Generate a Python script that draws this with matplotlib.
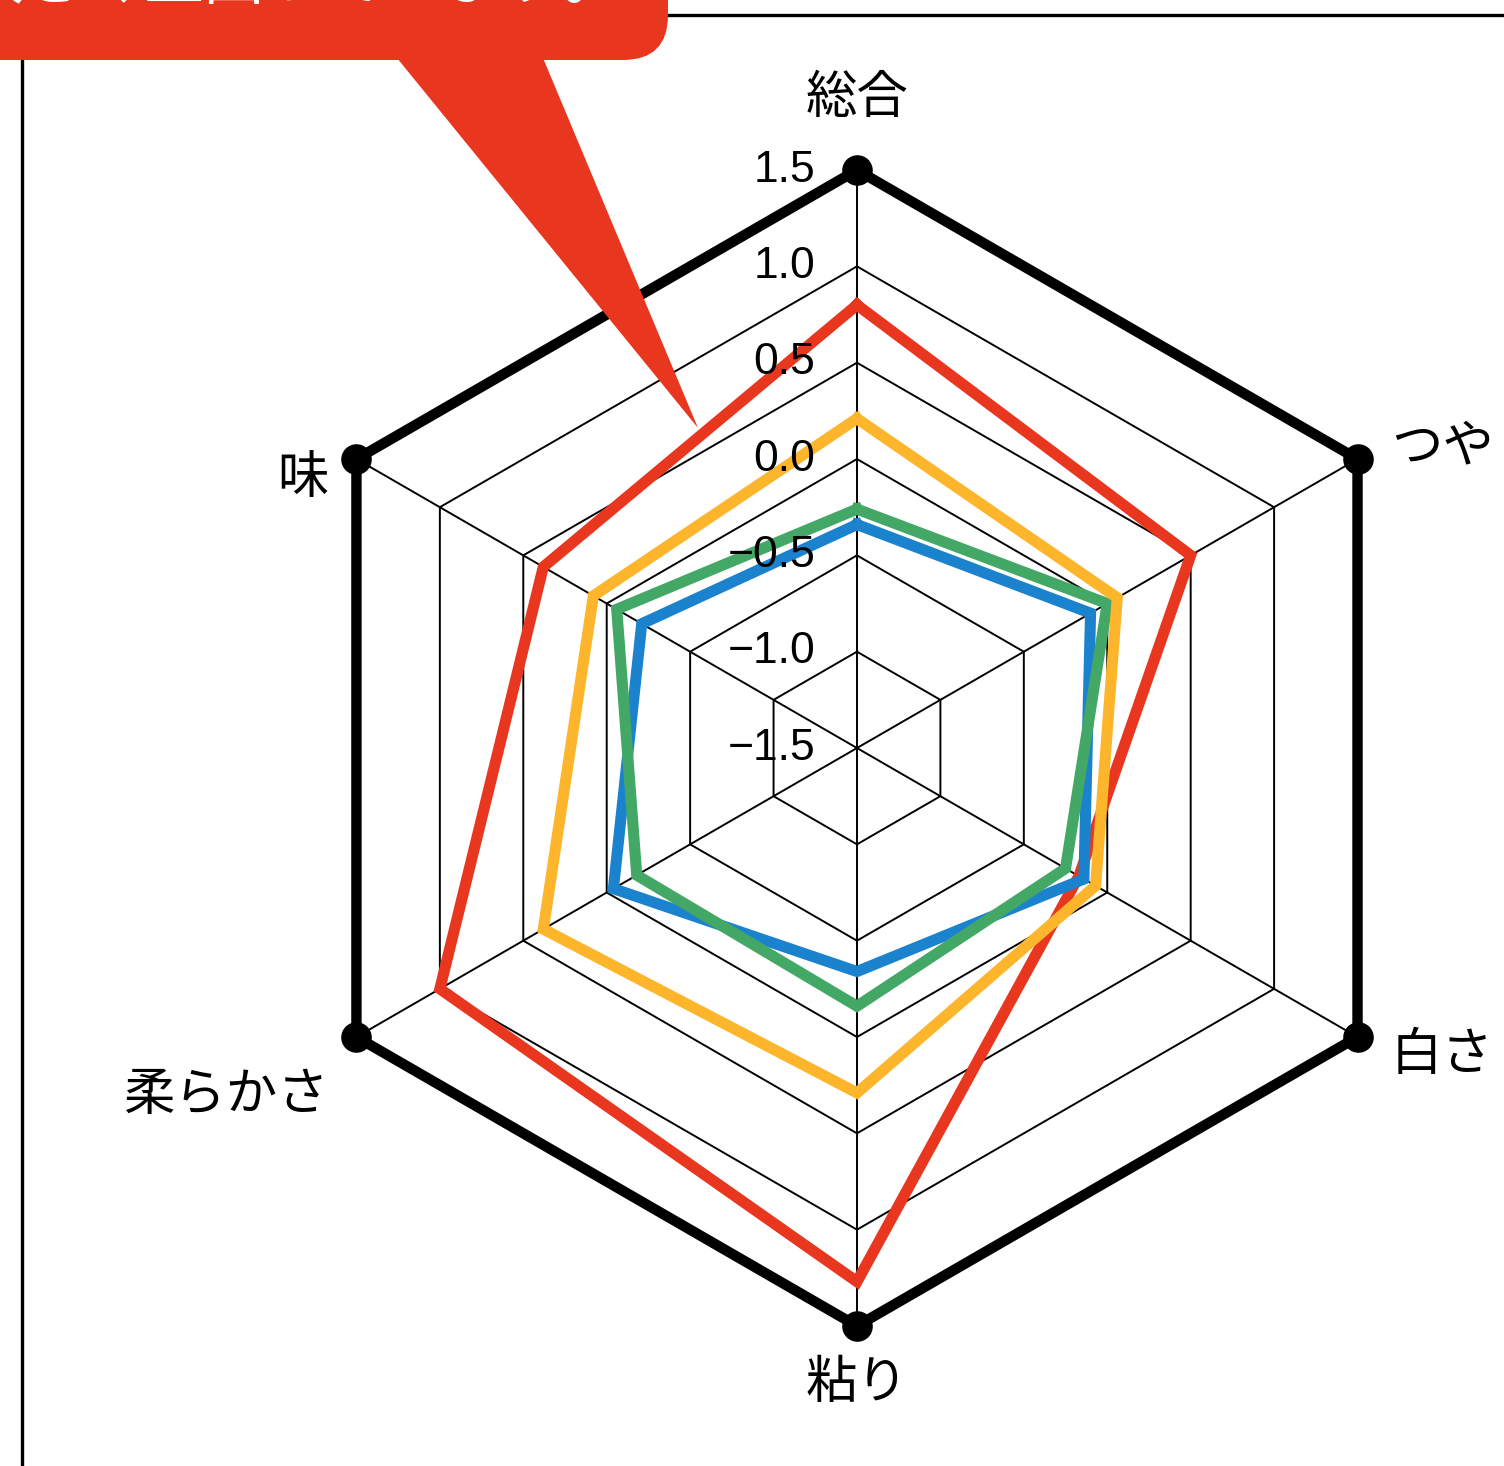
import numpy as np
import matplotlib
matplotlib.use("Agg")
import matplotlib.pyplot as plt
from matplotlib.patches import FancyBboxPatch, Polygon, Rectangle

plt.rcParams['font.family'] = ['Noto Sans CJK JP', 'DejaVu Sans']

# data
categories = ['総合', 'つや', '白さ', '粘り', '柔らかさ', '味']
red_vals = [0.80, 0.50, -0.17, 1.27, 1.00, 0.38]
yellow_vals = [0.21, 0.06, -0.07, 0.29, 0.38, 0.08]
green_vals = [-0.26, 0.00, -0.25, -0.16, -0.18, -0.06]
blue_vals = [-0.34, -0.10, -0.14, -0.34, -0.04, -0.21]
ring_vals = [-1.0, -0.5, 0.0, 0.5, 1.0]
tick_vals = [1.5, 1.0, 0.5, 0.0, -0.5, -1.0, -1.5]
tick_labels = ['1.5', '1.0', '0.5', '0.0', '−0.5', '−1.0', '−1.5']
r_min, r_max = -1.5, 1.5
callout_text = '品種より大きく上回っています。'

series = [
    (red_vals, '#E8361F'),
    (blue_vals, '#1B83CE'),
    (green_vals, '#43A866'),
    (yellow_vals, '#FDB52B'),
]

W, H = 1504, 1466
fig = plt.figure(figsize=(W / 100, H / 100), dpi=100)

ax = fig.add_axes([0.1855, 0.0955, 0.7686, 0.7885], projection='polar')
ax.set_theta_offset(np.pi / 2)
ax.set_theta_direction(-1)
ax.set_ylim(r_min, r_max)
ax.grid(False)
ax.spines['polar'].set_visible(False)
ax.set_xticks([])
ax.set_yticks([])
ax.patch.set_alpha(0)

n = len(categories)
theta = np.arange(n) * 2 * np.pi / n
theta_c = np.append(theta, theta[0])

# grid rings and spokes
for v in ring_vals:
    ax.plot(theta_c, [v] * (n + 1), color='black', lw=1.4, zorder=1)
for t in theta:
    ax.plot([t, t], [r_min, r_max], color='black', lw=1.4, zorder=1)
ax.plot(theta_c, [r_max] * (n + 1), color='black', lw=7.5, zorder=2, clip_on=False)
ax.plot(theta, [r_max] * n, 'o', color='black', ms=21, zorder=3, clip_on=False)

for vals, col in series:
    ax.plot(theta_c, vals + vals[:1], color=col, lw=8, zorder=4,
            solid_joinstyle='miter', clip_on=False)

# scale labels along the top axis
for v, lab in zip(tick_vals, tick_labels):
    ax.annotate(lab, xy=(0, v), xytext=(-30, 0), textcoords='offset points',
                ha='right', va='center', fontsize=32, family='Liberation Sans',
                zorder=6, annotation_clip=False)

# category labels
offsets = [((0, 52), 'center'), ((24, 9), 'left'), ((24, -13), 'left'),
           ((0, -41), 'center'), ((-20, -42), 'right'), ((-20, -14), 'right')]
for t, lab, (off, ha) in zip(theta, categories, offsets):
    ax.annotate(lab, xy=(t, r_max), xytext=off, textcoords='offset points',
                ha=ha, va='center', fontsize=37, zorder=6, annotation_clip=False)

# frame and callout on top
deco = fig.add_axes([0, 0, 1, 1])
deco.set_xlim(0, W)
deco.set_ylim(H, 0)
deco.axis('off')
deco.add_patch(Rectangle((22, 15), W + 100, H + 100, fill=False, ec='black', lw=2.4))
deco.add_patch(FancyBboxPatch((-200, -200), 868, 260,
                              boxstyle='round,pad=0,rounding_size=45',
                              fc='#E8361F', ec='none'))
deco.add_patch(Polygon([(397, 58), (543, 58), (698, 428)], closed=True,
                       fc='#E8361F', ec='none'))
deco.text(622, 13, callout_text, ha='right', va='bottom', color='white',
          fontsize=43)

fig.savefig('out.png', dpi=100)
